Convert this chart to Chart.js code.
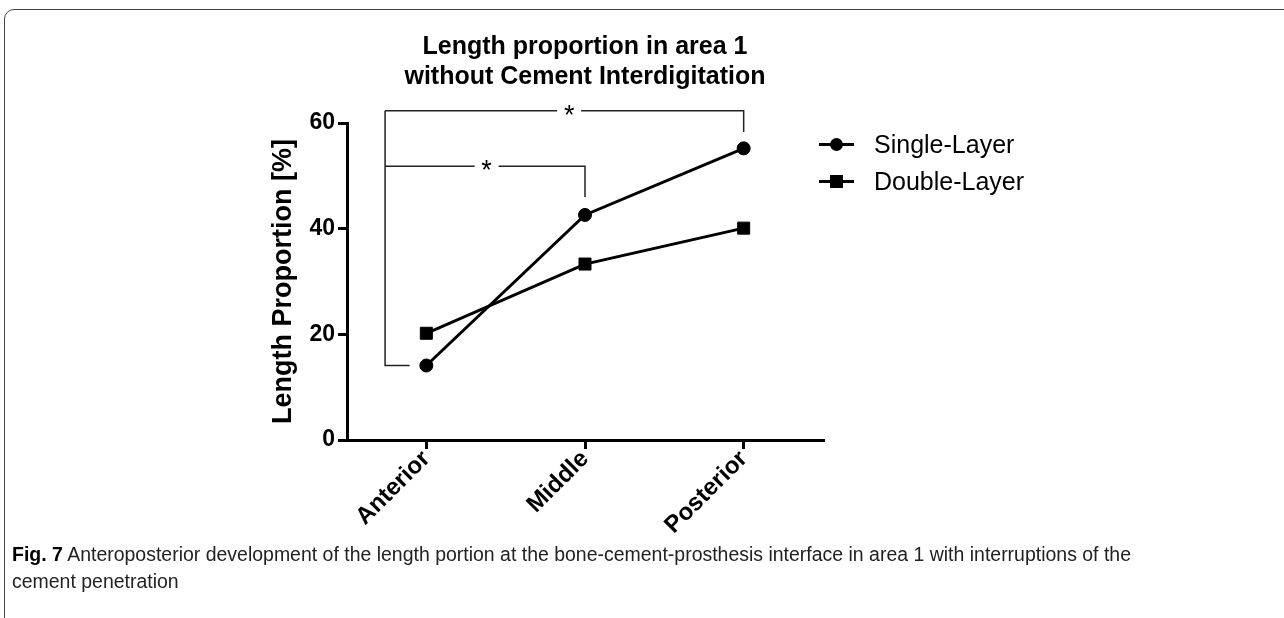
<!DOCTYPE html>
<html>
<head>
<meta charset="utf-8">
<title>Length proportion in area 1</title>
<script src="https://cdn.jsdelivr.net/npm/chart.js@4.4.1/dist/chart.umd.min.js"></script>
<style>
    body { margin: 0; width: 1284px; height: 618px; overflow: hidden; background: #fff; font-family: "Liberation Sans", Arial, sans-serif; }
    .frame { position: absolute; left: 4px; top: 9px; width: 1320px; height: 640px; border: 1px solid #444; border-radius: 10px; box-sizing: border-box; }
    #lengthChart { position: absolute; left: 0; top: 0; }
    .legend { position: absolute; left: 819px; top: 126px; }
    .legend-row { display: flex; align-items: center; height: 37px; font-size: 25px; color: #000; }
    .legend-mark { position: relative; width: 35px; height: 3px; background: #000; margin-right: 20px; }
    .legend-mark .dot { position: absolute; left: 11px; top: -5px; width: 13px; height: 13px; border-radius: 50%; background: #000; }
    .legend-mark .sq { position: absolute; left: 11px; top: -5px; width: 13px; height: 13px; background: #000; }
    .caption { position: absolute; left: 12px; top: 541px; font-family: "Liberation Sans", Arial, sans-serif; font-size: 20px; line-height: 27px; color: #222; white-space: nowrap; transform-origin: 0 0; }
    .caption b { color: #000; }
</style>
</head>
<body>
<div class="frame"></div>
<canvas id="lengthChart" width="1284" height="560"></canvas>

<div class="legend">
    <div class="legend-row"><span class="legend-mark"><span class="dot"></span></span>Single-Layer</div>
    <div class="legend-row"><span class="legend-mark"><span class="sq"></span></span>Double-Layer</div>
</div>

<div class="caption" id="caption"><b>Fig. 7</b> Anteroposterior development of the length portion at the bone-cement-prosthesis interface in area 1 with interruptions of the<br>cement penetration</div>

<script>
const categories = ['Anterior', 'Middle', 'Posterior'];
const singleLayer = [14.1, 42.6, 55.2];
const doubleLayer = [20.2, 33.3, 40.1];
const yTicks = [0, 20, 40, 60];

// significance brackets (category index / y value units)
const bracketLeg = -0.26;     // shared left leg
const bracketFoot = -0.105;   // where the foot ends, next to the anterior point
const brackets = [
    { to: 2, level: 62.3, drop: 58.3, star: 0.9 },
    { to: 1, level: 51.8, drop: 46.0, star: 0.38 }
];

const FONT = '"Liberation Sans", Arial, sans-serif';

const sigBracketPlugin = {
    id: 'sigBrackets',
    afterDatasetsDraw(chart) {
        const ctx = chart.ctx;
        const x = chart.scales.x;
        const y = chart.scales.y;
        const legX = x.getPixelForValue(bracketLeg);
        const topLevel = Math.max(...brackets.map(b => b.level));

        ctx.save();
        ctx.strokeStyle = '#222';
        ctx.lineWidth = 1.5;
        ctx.beginPath();
        // left leg and foot
        ctx.moveTo(legX, y.getPixelForValue(topLevel));
        ctx.lineTo(legX, y.getPixelForValue(singleLayer[0]));
        ctx.lineTo(x.getPixelForValue(bracketFoot), y.getPixelForValue(singleLayer[0]));

        brackets.forEach(b => {
            const yl = y.getPixelForValue(b.level);
            const xs = x.getPixelForValue(b.star);
            const xr = x.getPixelForValue(b.to);
            ctx.moveTo(legX, yl);
            ctx.lineTo(xs - 12, yl);
            ctx.moveTo(xs + 12, yl);
            ctx.lineTo(xr, yl);
            ctx.lineTo(xr, y.getPixelForValue(b.drop));
        });
        ctx.stroke();

        ctx.fillStyle = '#000';
        ctx.font = '27px ' + FONT;
        ctx.textAlign = 'center';
        ctx.textBaseline = 'alphabetic';
        brackets.forEach(b => {
            ctx.fillText('*', x.getPixelForValue(b.star), y.getPixelForValue(b.level) + 13);
        });
        ctx.restore();
    }
};

const ctx = document.getElementById('lengthChart').getContext('2d');
new Chart(ctx, {
    type: 'line',
    data: {
        labels: categories,
        datasets: [{
            label: 'Single-Layer',
            data: singleLayer,
            borderColor: '#000',
            borderWidth: 3,
            pointStyle: 'circle',
            pointRadius: 6.5,
            pointBackgroundColor: '#000',
            pointBorderColor: '#000',
            pointBorderWidth: 1
        }, {
            label: 'Double-Layer',
            data: doubleLayer,
            borderColor: '#000',
            borderWidth: 3,
            pointStyle: 'rect',
            pointRadius: 8.5,
            pointBackgroundColor: '#000',
            pointBorderColor: '#000',
            pointBorderWidth: 1
        }]
    },
    options: {
        responsive: false,
        animation: false,
        layout: { padding: { left: 0, right: 461, top: 0, bottom: 0 } },
        plugins: {
            legend: { display: false },
            tooltip: { enabled: false },
            title: {
                display: true,
                fullSize: false,
                text: ['Length proportion in area 1', 'without Cement Interdigitation'],
                color: '#000',
                font: { family: FONT, size: 25, weight: 'bold', lineHeight: 1.2 },
                padding: { top: 32, bottom: 31 }
            }
        },
        scales: {
            x: {
                offset: true,
                grid: { offset: false, drawOnChartArea: false, drawTicks: true, tickLength: 9, lineWidth: 3, color: '#000' },
                border: { display: true, width: 3, color: '#000' },
                ticks: {
                    color: '#000',
                    minRotation: 45,
                    maxRotation: 45,
                    padding: -4,
                    font: { family: FONT, size: 24, weight: 'bold' }
                },
                afterFit(scale) { scale.height = 120; }
            },
            y: {
                min: yTicks[0],
                max: yTicks[yTicks.length - 1],
                grid: { drawOnChartArea: false, drawTicks: true, tickLength: 9, lineWidth: 3, color: '#000' },
                border: { display: true, width: 3, color: '#000' },
                ticks: {
                    stepSize: yTicks[1] - yTicks[0],
                    color: '#000',
                    padding: 3,
                    font: { family: FONT, size: 23, weight: 'bold' }
                },
                title: {
                    display: true,
                    text: 'Length Proportion [%]',
                    color: '#000',
                    font: { family: FONT, size: 27, weight: 'bold', lineHeight: 1.2 },
                    padding: { top: 267, bottom: 0 }
                },
                afterFit(scale) { scale.width = 347; }
            }
        }
    },
    plugins: [sigBracketPlugin]
});

// the caption font in the figure is a condensed face; squeeze to the same line length
const caption = document.getElementById('caption');
caption.style.transform = 'scaleX(' + (1119 / caption.getBoundingClientRect().width) + ')';
</script>
</body>
</html>
